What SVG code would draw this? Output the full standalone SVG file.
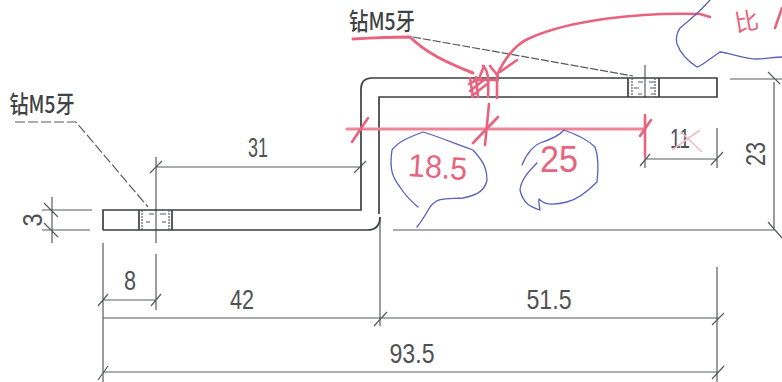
<svg xmlns="http://www.w3.org/2000/svg" width="782" height="382" viewBox="0 0 782 382">
<style>
.k{fill:none;stroke:#3c3f41;stroke-width:1.7}
.d{fill:none;stroke:#585b5d;stroke-width:1.2}
.r{fill:none;stroke:#e8647e;stroke-width:2.6;stroke-linecap:round;stroke-linejoin:round}
.b{fill:none;stroke:#5b60bd;stroke-width:1.3;stroke-linecap:round;stroke-linejoin:round}
.t{font-family:"Liberation Sans",sans-serif;fill:#4f5254;font-size:28px;text-anchor:middle}
.c{font-family:"Noto Sans CJK SC",sans-serif;fill:#3f4244;font-size:24px;font-weight:500;text-anchor:middle}
.h{font-family:"Liberation Sans",sans-serif;fill:#e8647e;text-anchor:middle}
</style>
<rect width="782" height="382" fill="#fff"/>
<g id="connectors">
<path class="d" d="M15 122H76L148 207" stroke-dasharray="10 3"/>
<path class="d" d="M413 37L633 76" stroke-dasharray="8 2" stroke-width="1.4"/>
<path class="d" d="M42 210H92M42 230H90M52 197V243M44 203L58 217M44 223L58 237"/>
<path class="d" d="M156 157V243M156 254V310M103 243V382M380 217V326M645 65V98M645 115V168M103 300H156M98 306L108 294M151 306L161 294"/>
<path class="d" d="M156 167H360M150 173L162 161M354 173L366 161"/>
<path class="d" d="M103 318H718M374 326L387 312M712 325L724 313"/>
<path class="d" d="M103 372H718M98 380L108 366M712 379L724 366"/>
<path class="d" d="M393 230H775M730 79H782M774 82V230M768 72L780 84M768 222L782 238"/>
<path class="d" d="M717 128V168M645 159H717M640 166L650 154M711 165L723 152M717 267V382"/>
</g>
<g id="part">
<path class="k" d="M103 230V210H361V89Q361 78 372 78H717V97H379V214M380 217Q380 230 367 230H103"/>
<path class="k" d="M628 78V97M659 78V97M139 210V230M172 210V230"/>
<path class="d" d="M632 78V97M655 78V97M142 210V230M169 210V230" stroke-dasharray="2 1"/>
<path class="d" d="M149 214H154M160 214H166M146 222H150M162 222H166M638 82H643M649 82H654M634 88H639M650 88H654M638 94H642M651 94H654"/>
</g>
<g id="labels">
<text class="c" x="42" y="113" textLength="65" lengthAdjust="spacingAndGlyphs">钻M5牙</text>
<text class="c" x="382" y="30" textLength="66" lengthAdjust="spacingAndGlyphs">钻M5牙</text>
<text class="t" x="258" y="157" textLength="20" lengthAdjust="spacingAndGlyphs">31</text>
<text class="t" x="130" y="290" textLength="12" lengthAdjust="spacingAndGlyphs">8</text>
<text class="t" x="242" y="309" textLength="24" lengthAdjust="spacingAndGlyphs">42</text>
<text class="t" x="549" y="309" textLength="45" lengthAdjust="spacingAndGlyphs">51.5</text>
<text class="t" x="412" y="363" textLength="45" lengthAdjust="spacingAndGlyphs">93.5</text>
<text class="t" x="680" y="148" textLength="20" lengthAdjust="spacingAndGlyphs">11</text>
<text class="t" transform="translate(765 154) rotate(-90)" textLength="24" lengthAdjust="spacingAndGlyphs">23</text>
<text class="t" transform="translate(42 220) rotate(-90)" textLength="13" lengthAdjust="spacingAndGlyphs">3</text>
</g>
<g id="redmarks">
<path class="r" d="M347 129H645" style="stroke:#ee8598;stroke-width:3.2"/>
<path class="r" d="M352 142L368 118M473 143L498 117M485 145L489 104M645 115V156M640 136L651 120"/>
<path class="r" d="M353 39Q385 37 410 37C425 52 445 62 473 73" style="stroke-width:3"/>
<path class="r" d="M497 75C505 58 515 44 530 38C570 20 640 12 700 14L710 17"/>
<path class="r" d="M500 72L517 60"/>
<path class="r" d="M470 78L473 97M476 77L478 97M483 66C488 70 489 78 488 97M497 76L497 98M484 66L480 76M490 66L498 76"/>
<path class="r" d="M469 84L481 78M470 91L484 80M472 96L487 84M474 80H498" style="stroke-width:2.4"/>
<text class="h" x="437" y="178" font-size="32" textLength="59" lengthAdjust="spacingAndGlyphs" transform="rotate(4 437 178)">18.5</text>
<text class="h" x="559" y="172" font-size="36" textLength="38" lengthAdjust="spacingAndGlyphs">25</text>
<text font-family="'Noto Sans CJK SC',sans-serif" fill="#e8647e" font-size="24" text-anchor="middle" x="748" y="30" transform="rotate(-10 748 30)">比</text>
<path class="r" d="M782 8L775 28"/>
<path d="M672 150L700 130M681 132L702 152" stroke="#f0bcc6" stroke-width="1.6" fill="none"/>
</g>
<g id="clouds">
<path class="b" d="M418 207C412 202 405 195 400 187C393 178 389 170 392 150C398 142 407 138 423 132C440 137 458 145 473 150C482 160 487 167 487 180C485 190 478 195 463 198C445 199 438 197 430 207C426 214 421 222 417 227"/>
<path class="b" d="M522 165C527 152 535 145 540 143C552 139 560 135 564 130C578 135 588 140 595 147C598 155 599 165 597 182C587 192 575 200 567 202C555 205 545 205 540 200C538 196 539 205 540 210C530 207 523 203 520 190C521 180 528 172 537 163"/>
<path class="b" d="M710 0C702 9 690 20 680 28C676 34 676 40 677 44C680 52 686 60 697 67C702 66 708 60 720 52C730 53 745 59 757 59C765 59 775 57 782 57"/>
</g>
</svg>
